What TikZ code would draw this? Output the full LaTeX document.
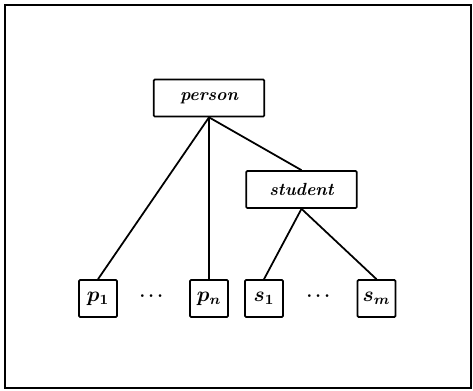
\documentclass[tikz,border=0pt]{standalone}
\usepackage{amsmath,amssymb}
\usepackage{tikz}
\tikzstyle{Frame}=[draw=black,line width=1.2pt]
\tikzstyle{Class}=[draw=black,line width=1pt,rounded corners=0.6pt,
minimum width=63pt,minimum height=21pt,inner sep=1pt,
font=\bfseries\itshape]
\tikzstyle{Leaf}=[draw=black,line width=1pt,rounded corners=0.6pt,
minimum width=21.5pt,minimum height=21pt,inner sep=1pt,
font=\boldmath\large]
\tikzstyle{Edge}=[draw=black,line width=1pt]
\tikzstyle{NodeDots}=[font=\boldmath]

\begin{document}
\begin{tikzpicture}[x=0.02cm,y=-0.02cm]
        \useasboundingbox(0,0)rectangle(473,390);
        \draw[Frame](5,5)rectangle(471,388);
        \node[Class](person)at(209.00,98.00){person};
        \node[Class](student)at(301.50,189.50){student};
        \node[Leaf](p1)at(98.00,298.50){$p_1$};
        \node[Leaf](pn)at(209.00,298.50){$p_n$};
        \node[Leaf](s1)at(264.00,298.50){$s_1$};
        \node[Leaf](sm)at(376.50,298.50){$s_m$};
        \node[NodeDots](dp)at(153.00,296.00){$\cdots$};
        \node[NodeDots](ds)at(320.00,296.00){$\cdots$};
        \draw[Edge](person.south)--(p1.north);
        \draw[Edge](person.south)--(pn.north);
        \draw[Edge](person.south)--(student.north);
        \draw[Edge](student.south)--(s1.north);
        \draw[Edge](student.south)--(sm.north);
    \end{tikzpicture}
\end{document}
